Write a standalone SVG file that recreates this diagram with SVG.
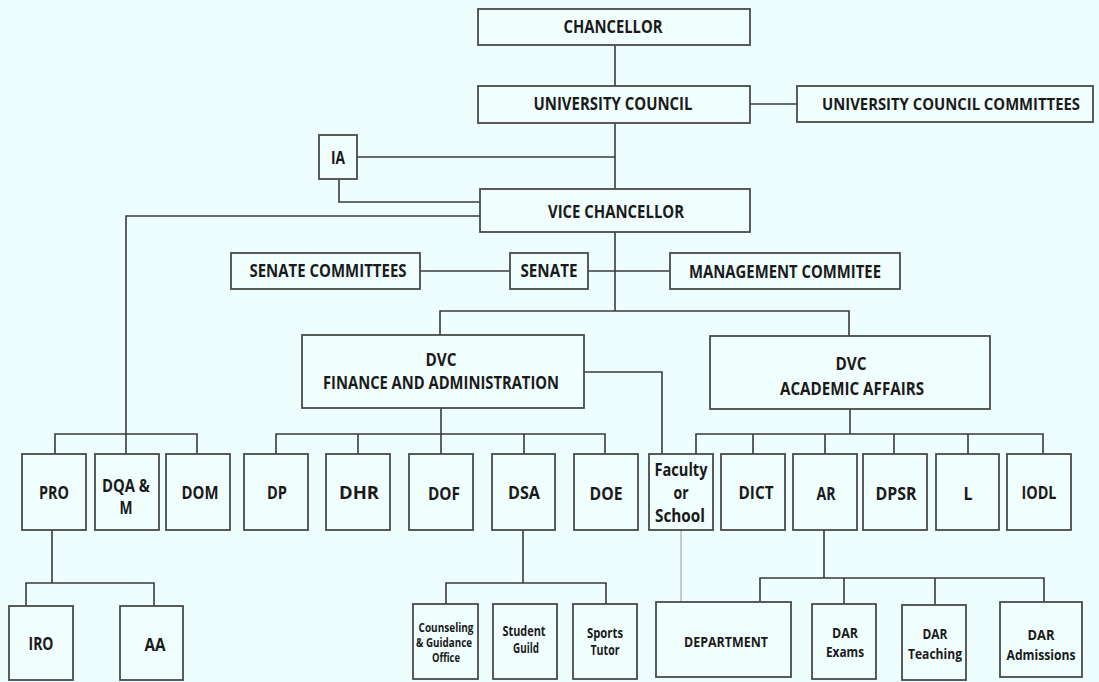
<svg xmlns="http://www.w3.org/2000/svg" width="1099" height="682" viewBox="0 0 1099 682">
<style>
.bg{fill:#eefdfd}
.box{fill:#f1fefe;stroke:#4a4a4a;stroke-width:1.8}
.t{font-family:"Open Sans","Liberation Sans",sans-serif;font-weight:700;fill:#1a1a1a;text-anchor:middle}
.l{font-size:17px}
.m{font-size:17px}
.s{font-size:14px}
.s2{font-size:14px}
.xs{font-size:12px}
.c{fill:none;stroke:#3a3a3a;stroke-width:1.6}
.c2{fill:none;stroke:#9a9a9a;stroke-width:1}
</style>
<rect class="bg" x="0" y="0" width="1099" height="682"/>
<g id="connectors">
<path class="c" d="M615 45V86"/>
<path class="c" d="M750 104H797"/>
<path class="c" d="M615 123V189"/>
<path class="c" d="M357 157H615"/>
<path class="c" d="M339 179V202H480"/>
<path class="c" d="M480 216H126V454"/>
<path class="c" d="M55 454V434H197V454"/>
<path class="c" d="M615 232V311"/>
<path class="c" d="M420 271H510"/>
<path class="c" d="M588 271H670"/>
<path class="c" d="M440 335V311H849V336"/>
<path class="c" d="M584 372H662V454"/>
<path class="c" d="M441 408V454"/>
<path class="c" d="M276 454V434H605V454"/>
<path class="c" d="M358 434V454"/>
<path class="c" d="M524 434V454"/>
<path class="c" d="M850 409V434"/>
<path class="c" d="M696 454V434H1043V454"/>
<path class="c" d="M753 434V454M825 434V454M894 434V454M968 434V454"/>
<path class="c" d="M52 530V583"/>
<path class="c" d="M26 606V583H154V606"/>
<path class="c" d="M523 530V583"/>
<path class="c" d="M446 604V583H606V604"/>
<path class="c" d="M824 530V578"/>
<path class="c" d="M760 602V578H1044V602"/>
<path class="c" d="M844 578V604M935 578V605"/>
<path class="c2" d="M681 530V602"/>
</g>
<g id="chancellor"><rect class="box" x="478" y="9" width="272" height="36"/><text class="t l" x="613" y="33" textLength="99" lengthAdjust="spacingAndGlyphs">CHANCELLOR</text></g>
<g id="council"><rect class="box" x="478" y="86" width="272" height="37"/><text class="t l" x="613" y="110" textLength="159" lengthAdjust="spacingAndGlyphs">UNIVERSITY COUNCIL</text></g>
<g id="council-committees"><rect class="box" x="797" y="86" width="296" height="36"/><text class="t" style="font-size:15.5px" x="951" y="110" textLength="258" lengthAdjust="spacingAndGlyphs">UNIVERSITY COUNCIL COMMITTEES</text></g>
<g id="ia"><rect class="box" x="319" y="135" width="38" height="44"/><text class="t l" x="338" y="164" textLength="14" lengthAdjust="spacingAndGlyphs">IA</text></g>
<g id="vc"><rect class="box" x="480" y="189" width="270" height="43"/><text class="t l" x="616" y="218" textLength="136" lengthAdjust="spacingAndGlyphs">VICE CHANCELLOR</text></g>
<g id="senate-committees"><rect class="box" x="231" y="253" width="189" height="36"/><text class="t l" x="328" y="277" textLength="157" lengthAdjust="spacingAndGlyphs">SENATE COMMITTEES</text></g>
<g id="senate"><rect class="box" x="510" y="253" width="78" height="36"/><text class="t l" x="549" y="277" textLength="57" lengthAdjust="spacingAndGlyphs">SENATE</text></g>
<g id="management"><rect class="box" x="670" y="253" width="230" height="36"/><text class="t l" x="785" y="278" textLength="192" lengthAdjust="spacingAndGlyphs">MANAGEMENT COMMITEE</text></g>
<g id="dvc-fa"><rect class="box" x="302" y="335" width="282" height="73"/><text class="t l" x="441" y="366" textLength="31" lengthAdjust="spacingAndGlyphs">DVC</text><text class="t l" x="441" y="389" textLength="236" lengthAdjust="spacingAndGlyphs">FINANCE AND ADMINISTRATION</text></g>
<g id="dvc-aa"><rect class="box" x="710" y="336" width="280" height="73"/><text class="t l" x="851" y="370" textLength="31" lengthAdjust="spacingAndGlyphs">DVC</text><text class="t l" x="852" y="395" textLength="144" lengthAdjust="spacingAndGlyphs">ACADEMIC AFFAIRS</text></g>
<g id="pro"><rect class="box" x="22" y="454" width="64" height="76"/><text class="t m" x="54" y="499" textLength="30" lengthAdjust="spacingAndGlyphs">PRO</text></g>
<g id="dqam"><rect class="box" x="95" y="454" width="64" height="76"/><text class="t m" x="126" y="492" textLength="48" lengthAdjust="spacingAndGlyphs">DQA &amp;</text><text class="t m" x="126" y="514" textLength="13" lengthAdjust="spacingAndGlyphs">M</text></g>
<g id="dom"><rect class="box" x="166" y="454" width="64" height="76"/><text class="t m" x="200" y="499" textLength="37" lengthAdjust="spacingAndGlyphs">DOM</text></g>
<g id="dp"><rect class="box" x="244" y="454" width="64" height="76"/><text class="t m" x="277" y="499" textLength="20" lengthAdjust="spacingAndGlyphs">DP</text></g>
<g id="dhr"><rect class="box" x="326" y="454" width="64" height="76"/><text class="t m" x="359" y="499" textLength="40" lengthAdjust="spacingAndGlyphs">DHR</text></g>
<g id="dof"><rect class="box" x="409" y="454" width="64" height="76"/><text class="t m" x="444" y="500" textLength="32" lengthAdjust="spacingAndGlyphs">DOF</text></g>
<g id="dsa"><rect class="box" x="492" y="454" width="63" height="76"/><text class="t m" x="524" y="499" textLength="32" lengthAdjust="spacingAndGlyphs">DSA</text></g>
<g id="doe"><rect class="box" x="574" y="454" width="64" height="76"/><text class="t m" x="606" y="500" textLength="33" lengthAdjust="spacingAndGlyphs">DOE</text></g>
<g id="faculty"><rect class="box" x="649" y="454" width="64" height="76"/><text class="t m" x="681" y="476" textLength="53" lengthAdjust="spacingAndGlyphs">Faculty</text><text class="t m" x="681" y="499" textLength="15" lengthAdjust="spacingAndGlyphs">or</text><text class="t m" x="680" y="522" textLength="50" lengthAdjust="spacingAndGlyphs">School</text></g>
<g id="dict"><rect class="box" x="721" y="454" width="64" height="76"/><text class="t m" x="756" y="499" textLength="35" lengthAdjust="spacingAndGlyphs">DICT</text></g>
<g id="ar"><rect class="box" x="793" y="454" width="64" height="76"/><text class="t m" x="826" y="500" textLength="19" lengthAdjust="spacingAndGlyphs">AR</text></g>
<g id="dpsr"><rect class="box" x="863" y="454" width="64" height="76"/><text class="t m" x="896" y="500" textLength="41" lengthAdjust="spacingAndGlyphs">DPSR</text></g>
<g id="l"><rect class="box" x="936" y="454" width="63" height="76"/><text class="t m" x="968" y="500" textLength="9" lengthAdjust="spacingAndGlyphs">L</text></g>
<g id="iodl"><rect class="box" x="1007" y="454" width="64" height="76"/><text class="t m" x="1039" y="499" textLength="35" lengthAdjust="spacingAndGlyphs">IODL</text></g>
<g id="iro"><rect class="box" x="9" y="606" width="64" height="74"/><text class="t m" x="41" y="650" textLength="25" lengthAdjust="spacingAndGlyphs">IRO</text></g>
<g id="aa"><rect class="box" x="120" y="606" width="63" height="74"/><text class="t m" x="155" y="651" textLength="21" lengthAdjust="spacingAndGlyphs">AA</text></g>
<g id="counseling"><rect class="box" x="413" y="604" width="65" height="75"/><text class="t xs" x="446" y="632" textLength="55" lengthAdjust="spacingAndGlyphs">Counseling</text><text class="t xs" x="444" y="647" textLength="56" lengthAdjust="spacingAndGlyphs">&amp; Guidance</text><text class="t xs" x="446" y="662" textLength="28" lengthAdjust="spacingAndGlyphs">Office</text></g>
<g id="guild"><rect class="box" x="493" y="604" width="64" height="75"/><text class="t s2" x="524" y="636" textLength="43" lengthAdjust="spacingAndGlyphs">Student</text><text class="t s2" x="526" y="653" textLength="26" lengthAdjust="spacingAndGlyphs">Guild</text></g>
<g id="sports"><rect class="box" x="573" y="604" width="64" height="75"/><text class="t s2" x="605" y="638" textLength="36" lengthAdjust="spacingAndGlyphs">Sports</text><text class="t s2" x="605" y="655" textLength="29" lengthAdjust="spacingAndGlyphs">Tutor</text></g>
<g id="department"><rect class="box" x="656" y="602" width="135" height="75"/><text class="t s" x="726" y="647" textLength="84" lengthAdjust="spacingAndGlyphs">DEPARTMENT</text></g>
<g id="dar-exams"><rect class="box" x="812" y="604" width="64" height="75"/><text class="t s" x="845" y="638" textLength="26" lengthAdjust="spacingAndGlyphs">DAR</text><text class="t s" x="845" y="657" textLength="38" lengthAdjust="spacingAndGlyphs">Exams</text></g>
<g id="dar-teaching"><rect class="box" x="902" y="605" width="64" height="75"/><text class="t s" x="935" y="639" textLength="25" lengthAdjust="spacingAndGlyphs">DAR</text><text class="t s" x="935" y="659" textLength="54" lengthAdjust="spacingAndGlyphs">Teaching</text></g>
<g id="dar-admissions"><rect class="box" x="1000" y="602" width="82" height="75"/><text class="t s" x="1041" y="640" textLength="27" lengthAdjust="spacingAndGlyphs">DAR</text><text class="t s" x="1041" y="660" textLength="69" lengthAdjust="spacingAndGlyphs">Admissions</text></g>
</svg>
